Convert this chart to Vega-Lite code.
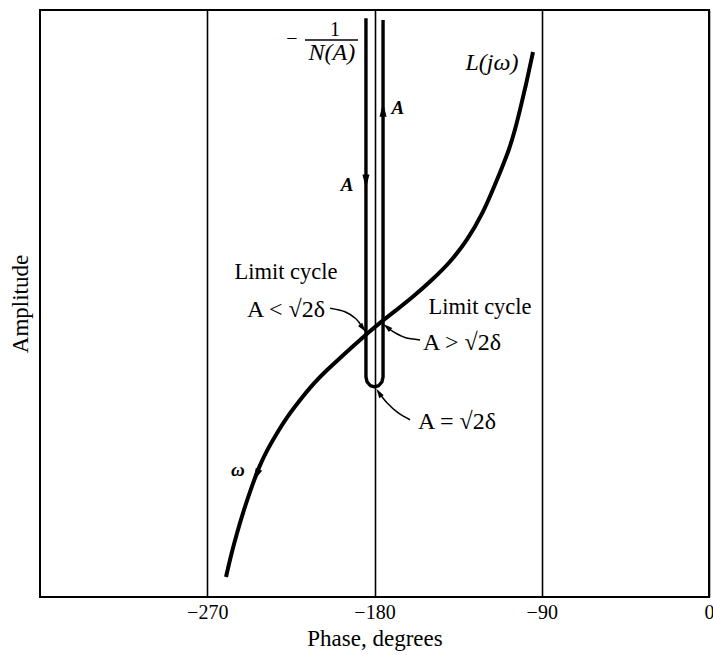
{
  "$schema": "https://vega.github.io/schema/vega-lite/v6.json",
  "width": 669,
  "height": 587,
  "autosize": {"type": "none"},
  "padding": {"left": 40, "top": 10, "right": 4, "bottom": 58},
  "background": "white",
  "config": {
    "font": "Liberation Serif",
    "view": {"stroke": "#000", "strokeWidth": 2},
    "text": {"font": "Liberation Serif", "color": "#000"}
  },
  "encoding": {
    "x": {
      "field": "x", "type": "quantitative",
      "scale": {"domain": [-360, 0], "nice": false, "zero": false},
      "axis": {
        "title": "Phase, degrees",
        "values": [-270, -180, -90, 0],
        "grid": true, "gridColor": "#000", "gridWidth": 1.6, "gridOpacity": 1,
        "ticks": false, "domain": false,
        "labelFont": "Liberation Serif", "labelFontSize": 20, "labelColor": "#000",
        "labelPadding": 5, "labelFlush": false,
        "titleFont": "Liberation Serif", "titleFontSize": 23, "titleFontWeight": "normal",
        "titleColor": "#000", "titleY": 41, "titleBaseline": "middle"
      }
    },
    "y": {
      "field": "y", "type": "quantitative",
      "scale": {"domain": [0, 100], "nice": false, "zero": false},
      "axis": {
        "title": "Amplitude",
        "labels": false, "ticks": false, "grid": false, "domain": false,
        "titleFont": "Liberation Serif", "titleFontSize": 23, "titleFontWeight": "normal",
        "titleColor": "#000", "titleX": -20, "titleY": 293.5, "titleAngle": -90,
        "titleBaseline": "middle", "titleAlign": "center"
      }
    }
  },
  "layer": [
    {
      "data": {"values": [
        {"x": -259.9, "y": 3.41}, {"x": -257.2, "y": 7.16}, {"x": -254.0, "y": 10.90},
        {"x": -250.0, "y": 15.16}, {"x": -245.4, "y": 19.42}, {"x": -241.9, "y": 22.32},
        {"x": -237.8, "y": 25.04}, {"x": -232.5, "y": 27.94}, {"x": -227.1, "y": 30.66},
        {"x": -220.1, "y": 33.56}, {"x": -212.6, "y": 36.46}, {"x": -205.6, "y": 38.67},
        {"x": -198.0, "y": 40.89}, {"x": -190.8, "y": 42.93}, {"x": -183.0, "y": 45.14},
        {"x": -176.5, "y": 46.85}, {"x": -168.2, "y": 48.89}, {"x": -159.3, "y": 51.11},
        {"x": -149.1, "y": 54.00}, {"x": -139.6, "y": 56.90}, {"x": -130.0, "y": 60.82},
        {"x": -121.6, "y": 65.42}, {"x": -115.7, "y": 69.85}, {"x": -111.9, "y": 72.74},
        {"x": -107.6, "y": 76.15}, {"x": -104.4, "y": 79.56}, {"x": -101.7, "y": 82.96},
        {"x": -97.9, "y": 88.07}, {"x": -94.7, "y": 92.84}
      ]},
      "mark": {"type": "line", "color": "#000", "strokeWidth": 4, "interpolate": "basis", "strokeCap": "butt"},
      "encoding": {}
    },
    {
      "data": {"values": [
        {"i": 0, "x": -184.6, "y": 98.6}, {"i": 1, "x": -184.6, "y": 37.5},
        {"i": 2, "x": -184.0, "y": 36.65}, {"i": 3, "x": -182.3, "y": 36.03},
        {"i": 4, "x": -180.0, "y": 35.8}, {"i": 5, "x": -177.7, "y": 36.03},
        {"i": 6, "x": -176.0, "y": 36.65}, {"i": 7, "x": -175.4, "y": 37.5},
        {"i": 8, "x": -175.4, "y": 98.3}
      ]},
      "mark": {"type": "line", "color": "#000", "strokeWidth": 3.4, "strokeCap": "butt", "strokeJoin": "round"},
      "encoding": {"order": {"field": "i", "type": "quantitative"}}
    },
    {
      "data": {"values": [{"x": -217.4, "x2": -188.9, "y": 94.9}]},
      "mark": {"type": "rule", "color": "#000", "strokeWidth": 1.5},
      "encoding": {"x2": {"field": "x2"}}
    },
    {
      "data": {"values": [
        {"id": "a1", "i": 0, "x": -203.9, "y": 49.2}, {"id": "a1", "i": 1, "x": -195.9, "y": 48.6},
        {"id": "a1", "i": 2, "x": -190.0, "y": 47.4}, {"id": "a1", "i": 3, "x": -186.7, "y": 46.0},
        {"id": "a2", "i": 0, "x": -155.5, "y": 43.8}, {"id": "a2", "i": 1, "x": -163.6, "y": 44.2},
        {"id": "a2", "i": 2, "x": -170.0, "y": 45.2}, {"id": "a2", "i": 3, "x": -173.3, "y": 46.0},
        {"id": "a3", "i": 0, "x": -160.9, "y": 30.2}, {"id": "a3", "i": 1, "x": -167.4, "y": 31.4},
        {"id": "a3", "i": 2, "x": -173.3, "y": 33.1}, {"id": "a3", "i": 3, "x": -177.6, "y": 34.8}
      ]},
      "mark": {"type": "line", "color": "#000", "strokeWidth": 1.5, "interpolate": "cardinal"},
      "encoding": {
        "detail": {"field": "id", "type": "nominal"},
        "order": {"field": "i", "type": "quantitative"}
      }
    },
    {
      "data": {"values": [
        {"x": -184.6, "y": 70.8, "heading": 180},
        {"x": -175.4, "y": 83.0, "heading": 0},
        {"x": -243.8, "y": 20.7, "heading": 206}
      ]},
      "mark": {"type": "point", "shape": "M0,-1L0.5,1L-0.5,1Z", "filled": true, "fill": "#000", "strokeWidth": 0, "opacity": 1, "size": 196},
      "encoding": {"angle": {"field": "heading", "type": "quantitative", "scale": null}}
    },
    {
      "data": {"values": [
        {"x": -186.2, "y": 45.8, "heading": 143},
        {"x": -173.3, "y": 46.0, "heading": 310},
        {"x": -177.6, "y": 34.8, "heading": 328}
      ]},
      "mark": {"type": "point", "shape": "M0,-1L0.55,1L-0.55,1Z", "filled": true, "fill": "#000", "strokeWidth": 0, "opacity": 1, "size": 90},
      "encoding": {"angle": {"field": "heading", "type": "quantitative", "scale": null}}
    },
    {
      "data": {"values": [
        {"t": "Limit cycle", "x": -227.6, "y": 55.4},
        {"t": "Limit cycle", "x": -123.2, "y": 49.4}
      ]},
      "mark": {"type": "text", "fontSize": 22.5, "align": "center", "baseline": "middle", "color": "#000"},
      "encoding": {"text": {"field": "t"}}
    },
    {
      "data": {"values": [
        {"t": "A < √2δ", "x": -227.6, "y": 48.9},
        {"t": "A > √2δ", "x": -132.9, "y": 43.3},
        {"t": "A = √2δ", "x": -135.6, "y": 29.8}
      ]},
      "mark": {"type": "text", "fontSize": 24, "align": "center", "baseline": "middle", "color": "#000"},
      "encoding": {"text": {"field": "t"}}
    },
    {
      "data": {"values": [
        {"t": "−", "x": -224.4, "y": 95.1},
        {"t": "1", "x": -201.3, "y": 96.6}
      ]},
      "mark": {"type": "text", "fontSize": 20, "align": "center", "baseline": "middle", "color": "#000"},
      "encoding": {"text": {"field": "t"}}
    },
    {
      "data": {"values": [
        {"t": "N(A)", "x": -202.9, "y": 92.7},
        {"t": "L(jω)", "x": -116.8, "y": 91.0}
      ]},
      "mark": {"type": "text", "fontSize": 24, "fontStyle": "italic", "align": "center", "baseline": "middle", "color": "#000"},
      "encoding": {"text": {"field": "t"}}
    },
    {
      "data": {"values": [
        {"t": "A", "x": -167.4, "y": 83.3},
        {"t": "A", "x": -194.8, "y": 70.2},
        {"t": "ω", "x": -253.5, "y": 21.6}
      ]},
      "mark": {"type": "text", "fontSize": 19, "fontStyle": "italic", "fontWeight": "bold", "align": "center", "baseline": "middle", "color": "#000"},
      "encoding": {"text": {"field": "t"}}
    }
  ]
}
